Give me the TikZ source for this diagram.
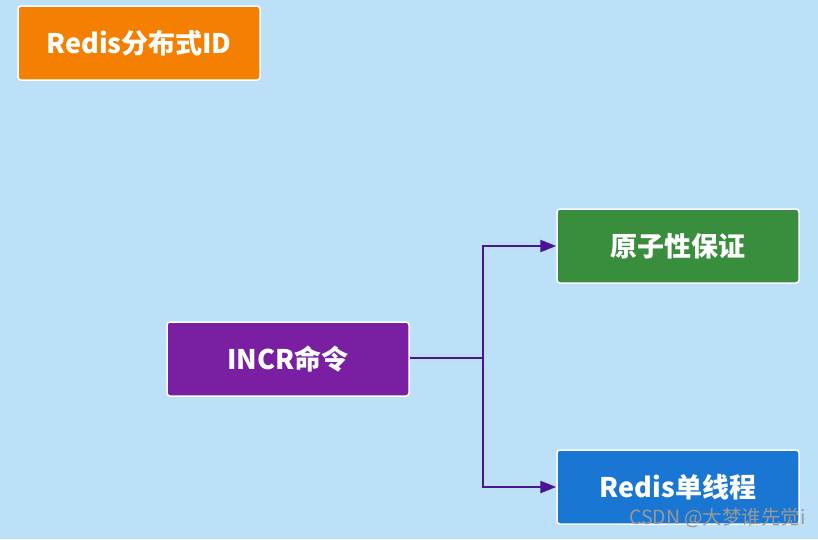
\documentclass[tikz,border=0pt]{standalone}
\usepackage{fontspec}
\setmainfont{Noto Sans CJK SC}
\newfontfamily\cjk{Noto Sans CJK SC}
\usepackage{tikz}
\usetikzlibrary{arrows.meta,positioning,calc}
\definecolor{bg}{HTML}{BDE0F9}
\definecolor{orangebox}{HTML}{F57F00}
\definecolor{purplebox}{HTML}{7B1FA2}
\definecolor{greenbox}{HTML}{388E3C}
\definecolor{bluebox}{HTML}{1976D2}
\definecolor{wire}{HTML}{4A1495}

\begin{document}
\begin{tikzpicture}[x=1pt,y=-1pt,
    box/.style={draw=white, line width=1.5pt, rounded corners=3pt,
        minimum width=242pt, minimum height=74pt, text=white,
        font=\cjk\bfseries\fontsize{27}{32}\selectfont},
    wireline/.style={draw=wire, line width=2.4pt},
    link/.style={wireline, -{Triangle[length=16pt,width=12pt]}}]
    % background
    \fill[bg] (0,0) rectangle (818,539);
    \useasboundingbox (0,0) rectangle (818,539);

    % boxes
    \node[box, fill=orangebox] (title) at (139,43) {Redis分布式ID};
    \node[box, fill=purplebox] (incr) at (288,359) {INCR命令};
    \node[box, fill=greenbox] (atomic) at (678,246) {原子性保证};
    \node[box, fill=bluebox] (single) at (678,487) {Redis单线程};

    % connectors
    \coordinate (fork) at (483,358);
    \draw[wireline] (incr.east |- fork) -- (fork);
    \draw[link] (fork) |- (atomic.west);
    \draw[link] (fork) |- (single.west);

    % watermark
    \node[anchor=east, text=black!40, font=\cjk\fontsize{19.5}{22}\selectfont, inner sep=0pt] (mark) at (806,518) {CSDN @大梦谁先觉i};
\end{tikzpicture}
\end{document}
